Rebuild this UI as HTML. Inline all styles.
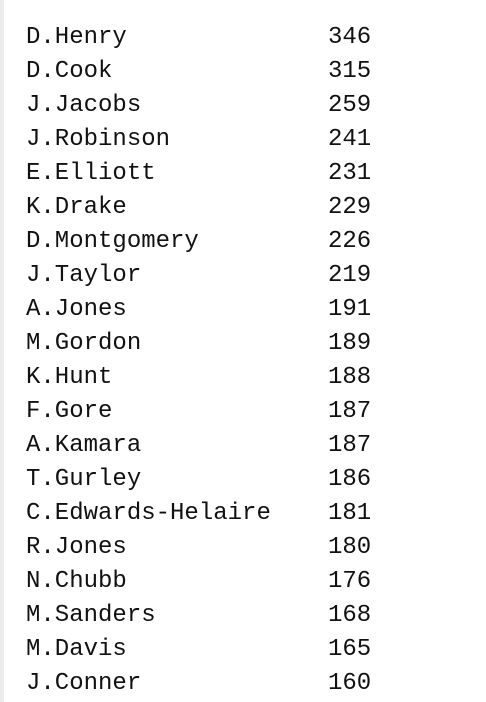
<!DOCTYPE html>
<html><head><meta charset="utf-8"><style>
html,body{margin:0;padding:0;background:#fff;width:486px;height:702px;overflow:hidden}
#wrap{position:relative;width:486px;height:702px;border-left:4px solid #ececec;box-sizing:border-box}
.row{position:absolute;left:0;height:34px;line-height:34px;font-family:"Liberation Mono",monospace;font-size:24px;color:#111;white-space:nowrap}
.name{position:absolute;left:22px}
.val{position:absolute;left:324px}
</style></head><body>
<div id="wrap"></div>
<script>
const names=["D.Henry","D.Cook","J.Jacobs","J.Robinson","E.Elliott","K.Drake","D.Montgomery","J.Taylor","A.Jones","M.Gordon","K.Hunt","F.Gore","A.Kamara","T.Gurley","C.Edwards-Helaire","R.Jones","N.Chubb","M.Sanders","M.Davis","J.Conner"];
const values=[346,315,259,241,231,229,226,219,191,189,188,187,187,186,181,180,176,168,165,160];
const wrap=document.getElementById('wrap');
names.forEach((n,i)=>{
  const r=document.createElement('div');
  r.className='row';
  r.style.top=(21+34*i)+'px';
  
  
  const a=document.createElement('span');a.className='name';a.textContent=n;
  
  
  const b=document.createElement('span');b.className='val';b.textContent=values[i];
  
  
  r.appendChild(a);r.appendChild(b);wrap.appendChild(r);
});
</script>
</body></html>
